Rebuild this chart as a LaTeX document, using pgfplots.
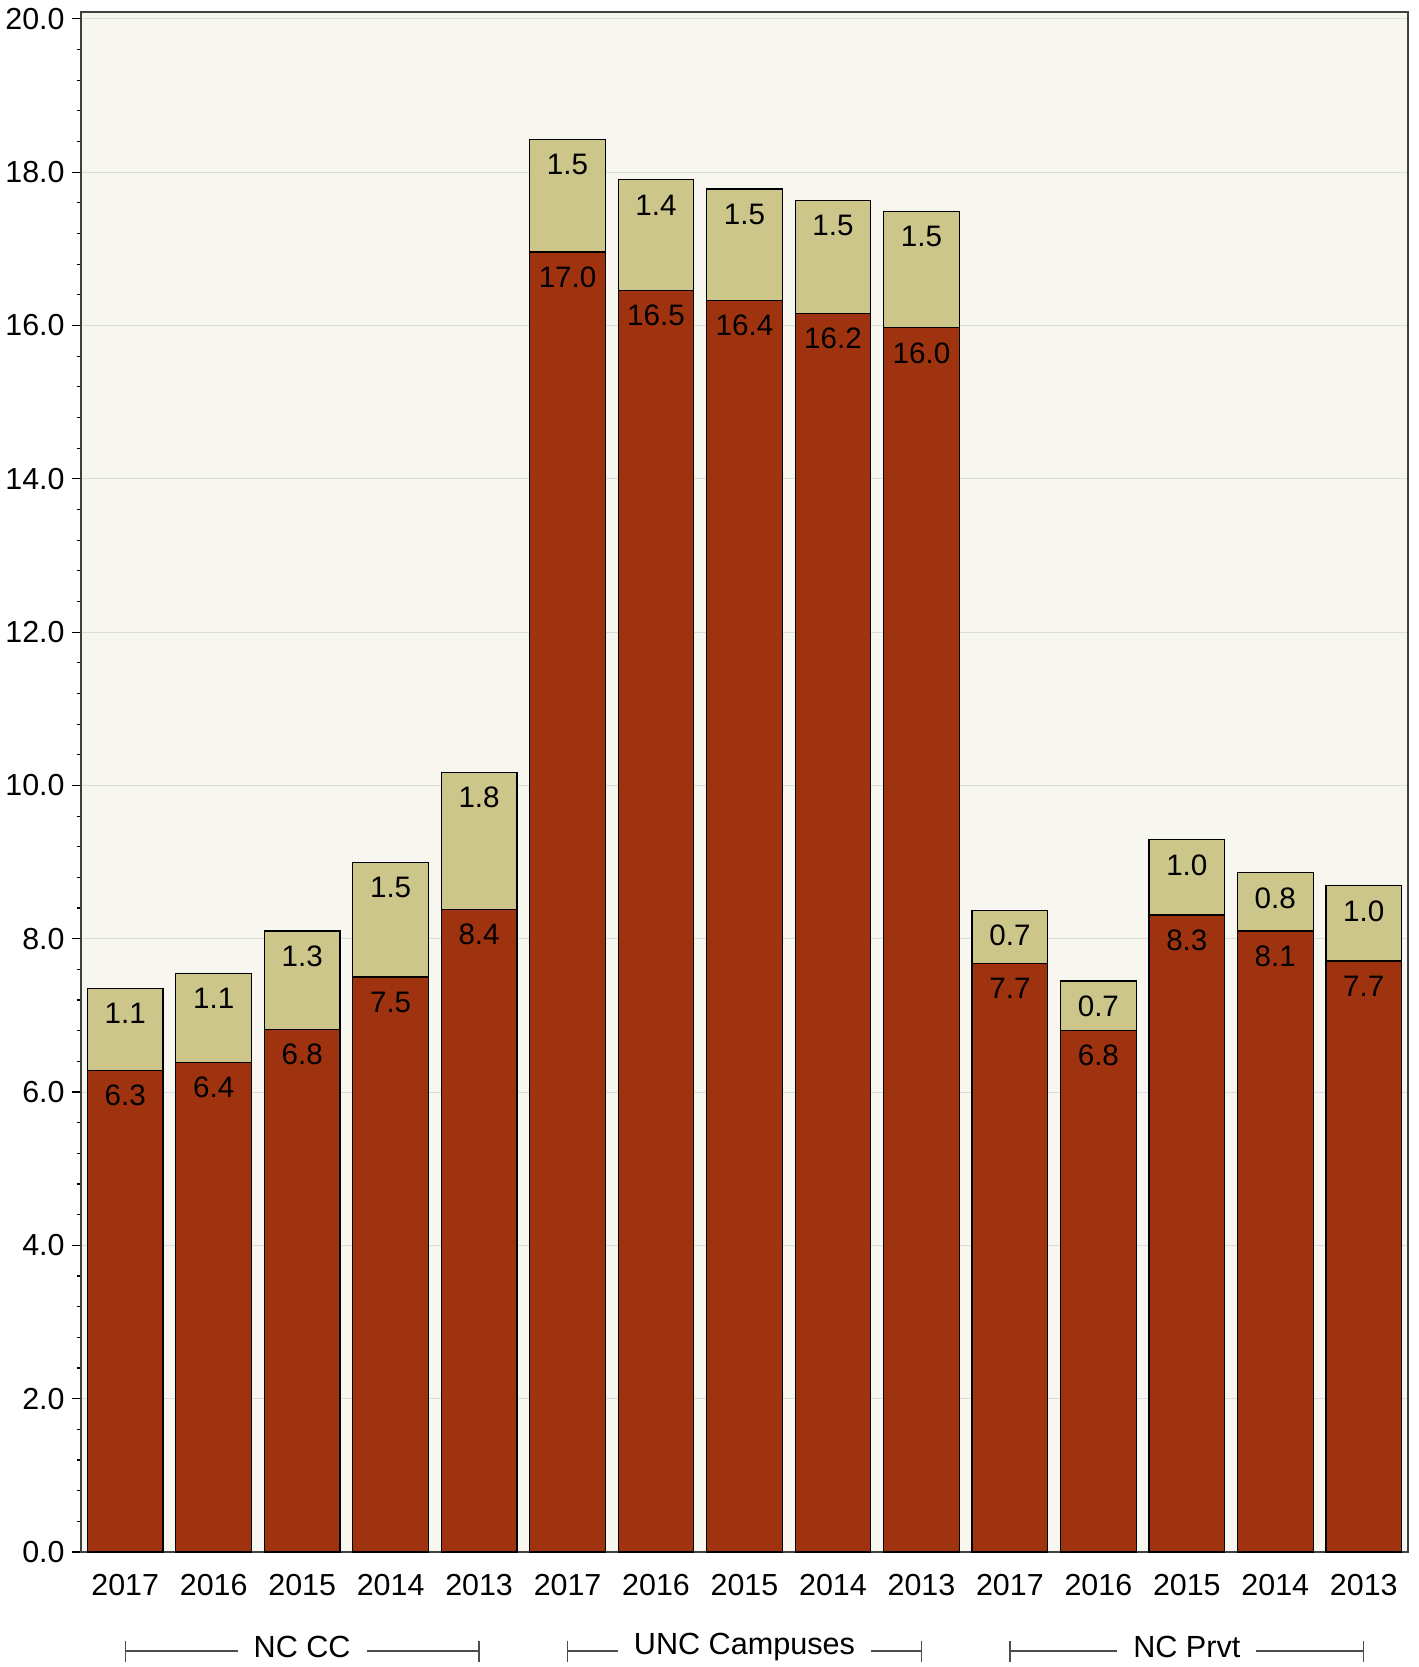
\documentclass[border=0pt]{standalone}
\usepackage{fontspec}
\setmainfont{Liberation Sans}
\usepackage{pgfplots}
\pgfplotsset{compat=1.18}

\definecolor{barred}{HTML}{A0330F}
\definecolor{bartan}{HTML}{CCC68A}
\definecolor{plotbg}{HTML}{F7F7EF}
\definecolor{gridgray}{HTML}{DCDCDC}

\begin{document}
\begin{tikzpicture}
\begin{axis}[
    scale only axis, width=663.5pt, height=770pt,
    xmin=-0.5, xmax=14.5, ymin=0, ymax=20.09,
    ybar, bar shift=0pt, bar width=0.855,
    axis background/.style={fill=plotbg},
    axis line style={draw=black!75, line width=0.7pt},
    /pgf/number format/assume math mode=true,
    /pgf/number format/fixed,
    /pgf/number format/fixed zerofill,
    /pgf/number format/precision=1,
    xtick={0,...,14},
    xticklabels={2017,2016,2015,2014,2013,2017,2016,2015,2014,2013,2017,2016,2015,2014,2013},
    x tick style={draw=none},
    xticklabel style={font=\fontsize{15.2}{17}\selectfont, anchor=center, yshift=-12pt},
    ytick={0,2,...,20}, minor y tick num=4,
    ytick pos=left, tick align=outside,
    major tick length=4.7pt, minor tick length=2.2pt,
    y tick style={black, line width=0.6pt},
    yticklabel style={font=\fontsize{15.2}{17}\selectfont},
    ymajorgrids, major grid style={gridgray, line width=0.5pt},
    point meta=explicit,
    nodes near coords,
    every node near coord/.append style={anchor=center, yshift=-12.5pt, black,
      font=\fontsize{14.8}{17}\selectfont},
    clip=false,
]
% total height (red + tan); label shows the tan share
\addplot[fill=bartan, draw=black, line width=0.6pt] coordinates {
  (0,7.35)[1.1] (1,7.55)[1.1] (2,8.10)[1.3] (3,9.00)[1.5] (4,10.17)[1.8]
  (5,18.43)[1.5] (6,17.90)[1.4] (7,17.78)[1.5] (8,17.63)[1.5] (9,17.49)[1.5]
  (10,8.37)[0.7] (11,7.45)[0.7] (12,9.29)[1.0] (13,8.86)[0.8] (14,8.69)[1.0]
};
% red part
\addplot[fill=barred, draw=black, line width=0.6pt] coordinates {
  (0,6.28)[6.3] (1,6.39)[6.4] (2,6.82)[6.8] (3,7.50)[7.5] (4,8.38)[8.4]
  (5,16.96)[17.0] (6,16.46)[16.5] (7,16.33)[16.4] (8,16.16)[16.2] (9,15.97)[16.0]
  (10,7.68)[7.7] (11,6.80)[6.8] (12,8.31)[8.3] (13,8.10)[8.1] (14,7.71)[7.7]
};
\coordinate (O) at (rel axis cs:0,0);
% group brackets under the year labels
\draw[black!70, line width=0.7pt]
  ([yshift=-49.5pt]axis cs:0,0) -- ([yshift=-49.5pt]axis cs:4,0)
  ([yshift=-44.25pt]axis cs:0,0) -- ([yshift=-54.75pt]axis cs:0,0)
  ([yshift=-44.25pt]axis cs:4,0) -- ([yshift=-54.75pt]axis cs:4,0)
  ([yshift=-49.5pt]axis cs:5,0) -- ([yshift=-49.5pt]axis cs:9,0)
  ([yshift=-44.25pt]axis cs:5,0) -- ([yshift=-54.75pt]axis cs:5,0)
  ([yshift=-44.25pt]axis cs:9,0) -- ([yshift=-54.75pt]axis cs:9,0)
  ([yshift=-49.5pt]axis cs:10,0) -- ([yshift=-49.5pt]axis cs:14,0)
  ([yshift=-44.25pt]axis cs:10,0) -- ([yshift=-54.75pt]axis cs:10,0)
  ([yshift=-44.25pt]axis cs:14,0) -- ([yshift=-54.75pt]axis cs:14,0);
\node[fill=white, inner xsep=8pt, inner ysep=1pt, font=\fontsize{15.3}{17}\selectfont]
  at ([yshift=-47.6pt]axis cs:2,0) {NC CC};
\node[fill=white, inner xsep=8pt, inner ysep=1pt, font=\fontsize{15.3}{17}\selectfont]
  at ([yshift=-47.6pt]axis cs:7,0) {UNC Campuses};
\node[fill=white, inner xsep=8pt, inner ysep=1pt, font=\fontsize{15.3}{17}\selectfont]
  at ([yshift=-47.6pt]axis cs:12,0) {NC Prvt};
\end{axis}
\pgfresetboundingbox
\path (O) ++(-40.5pt,-57.5pt) rectangle ++(709.5pt,833.5pt);
\end{tikzpicture}
\end{document}
